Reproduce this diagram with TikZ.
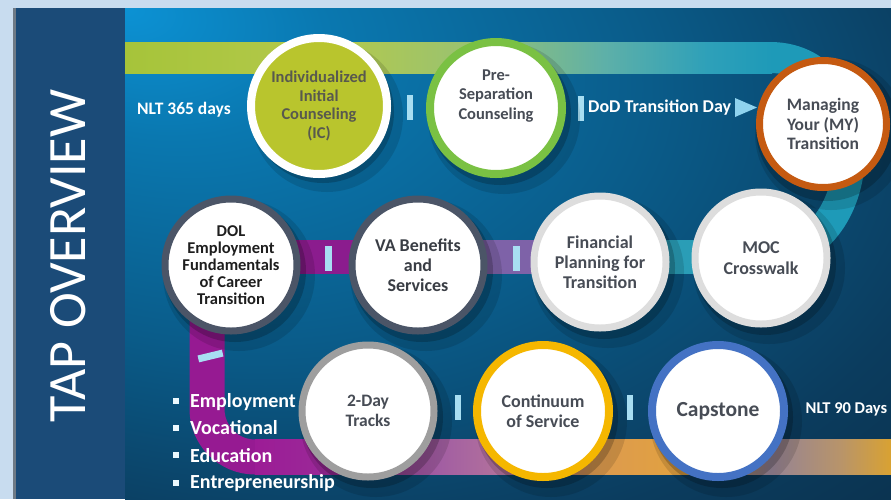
\documentclass[tikz,border=0pt]{standalone}
\usepackage{fontspec}
\setmainfont{Carlito}
\usetikzlibrary{calc}
\definecolor{pagebg}{HTML}{C8DCEF}
\definecolor{sidebarc}{HTML}{1B4B78}
\definecolor{sideline}{HTML}{6E7A86}
\definecolor{bgA}{HTML}{0C92D4}
\definecolor{bgB}{HTML}{0A78B0}
\definecolor{bgC}{HTML}{0A5C8A}
\definecolor{bgD}{HTML}{0B3C5E}
\definecolor{bgE}{HTML}{0A2438}
\definecolor{t1}{HTML}{A6C43A}
\definecolor{t2}{HTML}{B4C94C}
\definecolor{t3}{HTML}{98C272}
\definecolor{t4}{HTML}{5EB0A8}
\definecolor{t5}{HTML}{2EA0B9}
\definecolor{t6}{HTML}{1E9AB8}
\definecolor{b1}{HTML}{9C1C96}
\definecolor{b2}{HTML}{9A2A98}
\definecolor{b3}{HTML}{A25EA2}
\definecolor{b4}{HTML}{B8789A}
\definecolor{b5}{HTML}{DC9A50}
\definecolor{b6}{HTML}{E2A23E}
\definecolor{b7}{HTML}{958395}
\definecolor{b8}{HTML}{B8946A}
\definecolor{b9}{HTML}{D9A232}
\definecolor{loopmag}{HTML}{961A92}
\definecolor{midmag}{HTML}{8B1C8E}
\definecolor{midpur}{HTML}{7E62A8}
\definecolor{midteal}{HTML}{2A9DB6}
\definecolor{barblue}{HTML}{A8DEF2}
\definecolor{arrowblue}{HTML}{8FD3EE}
\definecolor{ictext}{HTML}{58594E}
\definecolor{circtext}{HTML}{474C55}
\definecolor{doltext}{HTML}{1E1E1E}
\definecolor{icfill}{HTML}{B9C52D}
\definecolor{ringgreen}{HTML}{7AC143}
\definecolor{ringorange}{HTML}{C55A11}
\definecolor{ringlight}{HTML}{DDDDDD}
\definecolor{ringslate}{HTML}{4B5567}
\definecolor{ringgray}{HTML}{9E9E9E}
\definecolor{ringgold}{HTML}{F5B700}
\definecolor{ringblue}{HTML}{4472C4}
\pgfdeclareradialshading{bgshade}{\pgfpoint{-25bp}{25bp}}{color(0bp)=(bgA); color(10bp)=(bgB); color(26bp)=(bgC); color(42bp)=(bgD); color(62bp)=(bgE); color(80bp)=(bgE)}
\pgfdeclarehorizontalshading{topband}{100bp}{color(0bp)=(t1); color(25bp)=(t1); color(41bp)=(t2); color(52bp)=(t3); color(62bp)=(t4); color(70bp)=(t5); color(75bp)=(t6); color(100bp)=(t6)}
\pgfdeclarehorizontalshading{botband}{100bp}{color(0bp)=(b1); color(25bp)=(b1); color(31bp)=(b2); color(39.5bp)=(b3); color(46bp)=(b4); color(51.5bp)=(b5); color(59bp)=(b6); color(65.5bp)=(b7); color(71bp)=(b8); color(75bp)=(b9); color(100bp)=(b9)}
\begin{document}
\begin{tikzpicture}[x=1pt,y=-1pt,
  bub/.style={circle, inner sep=0pt, minimum size=132pt, line width=7pt, fill=white,
    align=center, text=circtext, font=\bfseries\fontsize{18}{20}\selectfont},
  ctext/.style={align=center, inner sep=0pt, text=circtext, font=\bfseries\fontsize{16.5}{19.5}\selectfont},
  mband/.style={line width=34pt},
  tickbar/.style={rectangle, fill=barblue, inner sep=0pt, minimum width=6.5pt, minimum height=25pt},
  wlabel/.style={text=white, inner sep=0pt, font=\bfseries\fontsize{17.5}{20}\selectfont},
  bultext/.style={text=white, inner sep=0pt, anchor=west, font=\bfseries\fontsize{20}{22}\selectfont},
  bulsq/.style={rectangle, fill=white!92!cyan, inner sep=0pt, minimum size=5.5pt},
  shadowA/.style={fill=black, opacity=0.12},
  shadowB/.style={fill=black, opacity=0.2}]
\useasboundingbox (0,0) rectangle (891,499);
% frame and background
\fill[pagebg] (0,0) rectangle (891,499);
\fill[sideline] (13,8) rectangle (16,499);
\fill[sidebarc] (16,8) rectangle (125,499);
\shade[shading=bgshade] (125,8) rectangle (891,499);
\node[rotate=90, text=white, inner sep=0pt, font=\fontsize{54}{54}\selectfont] (title) at (68.5,256) {TAP OVERVIEW};
% circle centres
\coordinate (cIC) at (319,106);
\coordinate (cPS) at (496,108);
\coordinate (cMY) at (823,124);
\coordinate (cMOC) at (761,258);
\coordinate (cFIN) at (600,262);
\coordinate (cVA) at (418,265);
\coordinate (cDOL) at (231,265);
\coordinate (cTD) at (368,411);
\coordinate (cCS) at (543,411);
\coordinate (cCap) at (718,411);
% band anchors
\coordinate (topR) at (740,57.5);
\coordinate (mDOL) at (231,257);
\coordinate (mVA) at (418,257);
\coordinate (mFIN) at (600,257);
\coordinate (mMOC) at (761,257);
\coordinate (loopTop) at (207,270);
\coordinate (loopJoin) at (262,457);
% bands
\draw[line width=31pt, t6] (topR) -- (770,57.5) .. controls (880,57.5) and (875,257) .. (mMOC);
\shade[shading=topband] (125,42) rectangle (772,73);
\draw[mband, midmag] (mDOL) -- (mVA);
\draw[mband, midpur] (mVA) -- (mFIN);
\draw[mband, midteal] (mFIN) -- (mMOC);
\draw[line width=35pt, loopmag, rounded corners=48pt] (loopTop) |- (loopJoin);
\shade[shading=botband] (255,439.5) rectangle (891,474.5);
% separator bars
\node[tickbar] (bar1) at (410,107) {};
\node[tickbar] (bar2) at (581,108.5) {};
\node[tickbar] (bar3) at (328.5,258.5) {};
\node[tickbar] (bar4) at (516.5,258.5) {};
\node[tickbar] (bar5) at (458,407.5) {};
\node[tickbar] (bar6) at (630,407.5) {};
\node[tickbar, minimum width=25pt, minimum height=7pt, rotate=13.5] (bar7) at (210.5,356) {};
\fill[arrowblue] (735,98) -- (757,107.5) -- (735,117) -- cycle;
% shadows
\foreach \c in {cIC,cPS,cMY,cMOC,cFIN,cVA,cDOL,cTD,cCS,cCap}{
  \fill[shadowA] ([shift={(8,10)}]\c) circle (76);
  \fill[shadowB] ([shift={(4,6)}]\c) circle (71);
}
% circles
\node[bub, minimum size=136pt, line width=8pt, draw=white, fill=icfill, text=ictext,
  font=\bfseries\fontsize{16.5}{18.5}\selectfont] (ic) at (cIC) {Individualized\\Initial\\Counseling\\(IC)};
\node[bub, line width=8pt, draw=ringgreen] (ps) at (cPS) {};
\node[ctext] (psT) at (496,96) {Pre-\\Separation\\Counseling};
\node[bub, minimum size=127pt, draw=ringorange, font=\bfseries\fontsize{17.5}{19.5}\selectfont] (my) at (cMY) {Managing\\Your (MY)\\Transition};
\node[bub, draw=ringlight, font=\bfseries\fontsize{18}{21}\selectfont] (moc) at (cMOC) {MOC\\Crosswalk};
\node[bub, draw=ringlight] (fin) at (cFIN) {Financial\\Planning for\\Transition};
\node[bub, draw=ringslate, text=circtext!80!black] (va) at (cVA) {VA Benefits\\and\\Services};
\node[bub, draw=ringslate, text=doltext, font=\bfseries\fontsize{16.5}{17}\selectfont] (dol) at (cDOL) {DOL\\Employment\\Fundamentals\\of Career\\Transition};
\node[bub, draw=ringgray, font=\bfseries\fontsize{17.5}{19.5}\selectfont] (td) at (cTD) {2-Day\\Tracks};
\node[bub, line width=8pt, draw=ringgold] (cs) at (cCS) {Continuum\\of Service};
\node[bub, line width=8pt, draw=ringblue, font=\bfseries\fontsize{21.5}{24}\selectfont] (cap) at (cCap) {Capstone};
% labels
\node[wlabel] (nlt365) at (184,110) {NLT 365 days};
\node[wlabel, anchor=west, font=\bfseries\fontsize{18}{20}\selectfont] (dod) at (588,108) {DoD Transition Day};
\node[wlabel, font=\bfseries\fontsize{16.5}{19}\selectfont] (nlt90) at (846.5,409) {NLT 90 Days};
% bullets
\node[bulsq] (s1) at (176,401) {};
\node[bulsq] (s2) at (176,428) {};
\node[bulsq] (s3) at (176,455) {};
\node[bulsq] (s4) at (176,483) {};
\node[bultext] (e1) at (190,402) {Employment};
\node[bultext] (e2) at (190,428) {Vocational};
\node[bultext] (e3) at (190,456) {Education};
\node[bultext] (e4) at (190,483) {Entrepreneurship};
\end{tikzpicture}
\end{document}
